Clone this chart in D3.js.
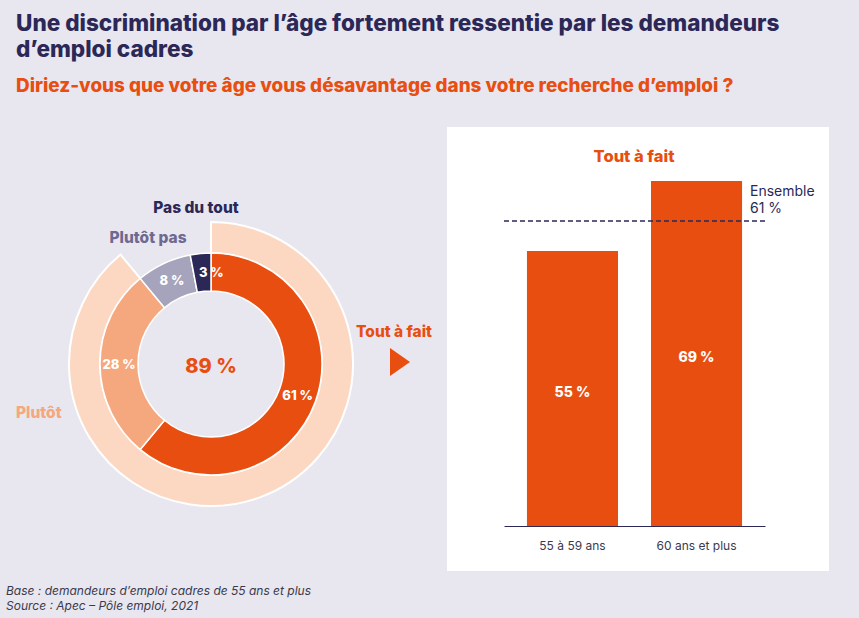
<!DOCTYPE html>
<html>
<head>
<meta charset="utf-8">
<script src="https://cdn.jsdelivr.net/npm/d3@7"></script>
<style>
  html, body { margin: 0; padding: 0; background: #e8e6ef; }
  svg { display: block; font-family: "Inter", "Lato", sans-serif; }
</style>
</head>
<body>
<div id="chart"></div>
<script>
// donut data
const answers = ["Tout à fait", "Plutôt", "Plutôt pas", "Pas du tout"];
const answerShares = [61, 28, 8, 3];
const answerColors = ["#e84e0f", "#f5a77e", "#a6a3bc", "#2b2857"];
const totalYes = 89;

// bar data
const ageGroups = ["55 à 59 ans", "60 ans et plus"];
const toutAFait = [55, 69];
const ensemble = 61;

const W = 859, H = 618;
const navy = "#2b2857", orange = "#e84e0f";

const svg = d3.select("#chart").append("svg")
  .attr("width", W).attr("height", H);

svg.append("rect").attr("width", W).attr("height", H).attr("fill", "#e8e6ef");

// fit a text element to a target width
function fitText(sel, width) {
  const w = sel.node().getComputedTextLength();
  const fs = parseFloat(sel.style("font-size"));
  sel.style("font-size", (fs * width / w) + "px");
}

// titles
const t1 = svg.append("text").attr("x", 16).attr("y", 31)
  .attr("fill", navy).style("font-weight", 800).style("font-size", "21px")
  .text("Une discrimination par l’âge fortement ressentie par les demandeurs");
fitText(t1, 764);
const t2 = svg.append("text").attr("x", 16).attr("y", 57)
  .attr("fill", navy).style("font-weight", 800).style("font-size", t1.style("font-size"))
  .text("d’emploi cadres");
const t3 = svg.append("text").attr("x", 16).attr("y", 92)
  .attr("fill", orange).style("font-weight", 800).style("font-size", "16px")
  .text("Diriez-vous que votre âge vous désavantage dans votre recherche d’emploi ?");
fitText(t3, 718);

// ---- donut ----
const cx = 211, cy = 364;
const g = svg.append("g").attr("transform", `translate(${cx},${cy})`);

const outerArc = d3.arc().innerRadius(111).outerRadius(142);
g.append("path")
  .attr("d", outerArc({ startAngle: 0, endAngle: 2 * Math.PI * totalYes / 100 }))
  .attr("fill", "#fcd8c2")
  .attr("stroke", "#fff").attr("stroke-width", 2);

const pie = d3.pie().sort(null).value(d => d);
const arc = d3.arc().innerRadius(73).outerRadius(111);
const slices = pie(answerShares);

g.selectAll("path.slice").data(slices).enter().append("path")
  .attr("class", "slice")
  .attr("d", arc)
  .attr("fill", (d, i) => answerColors[i])
  .attr("stroke", "#fff").attr("stroke-width", 1.5);

g.selectAll("text.pct").data(slices).enter().append("text")
  .attr("class", "pct")
  .attr("transform", (d, i) => {
    const c = arc.centroid(d);
    const off = i === 3 ? 9 : 0;
    return `translate(${c[0] + off},${c[1]})`;
  })
  .attr("text-anchor", "middle").attr("dy", "0.35em")
  .attr("fill", "#fff").style("font-weight", 800).style("font-size", "13px")
  .text(d => d.data + " %");

g.append("text").attr("text-anchor", "middle").attr("dy", "0.35em").attr("y", 2)
  .attr("fill", orange).style("font-weight", 800).style("font-size", "20px")
  .text(totalYes + " %");

// answer labels
const labelPos = [
  { x: 356, y: 337, anchor: "start", color: orange },
  { x: 16, y: 418, anchor: "start", color: "#f5a77e" },
  { x: 148, y: 243, anchor: "middle", color: "#6d6a91" },
  { x: 196, y: 213, anchor: "middle", color: navy }
];
svg.selectAll("text.ans").data(answers).enter().append("text")
  .attr("class", "ans")
  .attr("x", (d, i) => labelPos[i].x).attr("y", (d, i) => labelPos[i].y)
  .attr("text-anchor", (d, i) => labelPos[i].anchor)
  .attr("fill", (d, i) => labelPos[i].color)
  .style("font-weight", 800).style("font-size", "15.5px")
  .text(d => d);

// arrow
svg.append("path").attr("d", "M390,348 L410,362 L390,376 Z").attr("fill", orange);

// ---- bar panel ----
svg.append("rect").attr("x", 447).attr("y", 127).attr("width", 382).attr("height", 444)
  .attr("fill", "#fff");

const x = d3.scaleBand().domain(ageGroups).range([504, 765])
  .paddingInner(0.266).paddingOuter(0.185);
const y = d3.scaleLinear().domain([0, 100]).range([526, 26]);

svg.selectAll("rect.bar").data(toutAFait).enter().append("rect")
  .attr("class", "bar")
  .attr("x", (d, i) => x(ageGroups[i]))
  .attr("y", d => y(d))
  .attr("width", x.bandwidth())
  .attr("height", d => y(0) - y(d))
  .attr("fill", orange);

svg.selectAll("text.barlab").data(toutAFait).enter().append("text")
  .attr("class", "barlab")
  .attr("x", (d, i) => x(ageGroups[i]) + x.bandwidth() / 2)
  .attr("y", d => (y(d) + y(0)) / 2 + 4)
  .attr("text-anchor", "middle").attr("dy", "0.35em")
  .attr("fill", "#fff").style("font-weight", 800).style("font-size", "14px")
  .text(d => d + " %");

const xAxis = svg.append("g").attr("transform", `translate(0,${y(0)})`)
  .call(d3.axisBottom(x).tickSize(0).tickPadding(15));
xAxis.select(".domain").attr("stroke", navy).attr("stroke-width", 1.2);
xAxis.selectAll("text").attr("fill", "#3b3a4c").style("font-size", "12px")
  .style("font-family", "Inter, Lato, sans-serif");

svg.append("line")
  .attr("x1", 504).attr("x2", 765).attr("y1", y(ensemble)).attr("y2", y(ensemble))
  .attr("stroke", navy).attr("stroke-width", 1.5).attr("stroke-dasharray", "5,3");

svg.append("text").attr("x", 750).attr("y", 196)
  .attr("fill", navy).style("font-size", "14px").text("Ensemble");
svg.append("text").attr("x", 750).attr("y", 213)
  .attr("fill", navy).style("font-size", "14px").text(ensemble + " %");

svg.append("text").attr("x", 634).attr("y", 162).attr("text-anchor", "middle")
  .attr("fill", orange).style("font-weight", 800).style("font-size", "16.5px")
  .text("Tout à fait");

// footer
svg.append("text").attr("x", 6).attr("y", 595)
  .attr("fill", "#3b3a4c").style("font-style", "italic").style("font-size", "12px")
  .text("Base : demandeurs d’emploi cadres de 55 ans et plus");
svg.append("text").attr("x", 6).attr("y", 610)
  .attr("fill", "#3b3a4c").style("font-style", "italic").style("font-size", "12px")
  .text("Source : Apec – Pôle emploi, 2021");
</script>
</body>
</html>
